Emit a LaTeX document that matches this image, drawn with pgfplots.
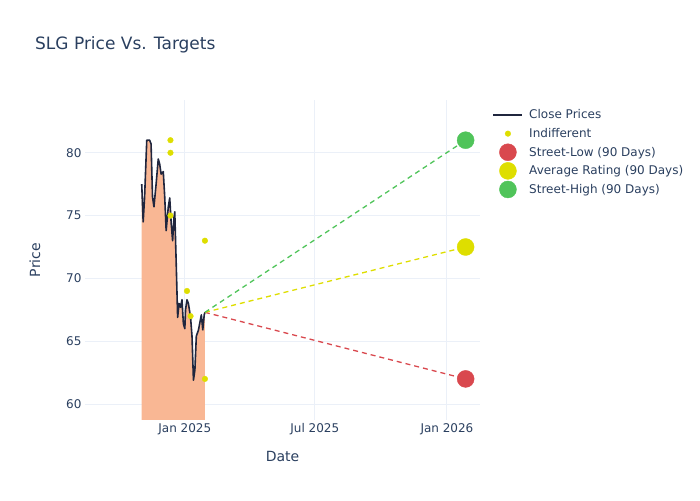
\documentclass[border=0pt]{standalone}
\usepackage{pgfplots}
\pgfplotsset{compat=1.18}
\usepackage{fontspec}
\setmainfont{DejaVu Sans}
\definecolor{txt}{RGB}{42,63,95}
\definecolor{gridc}{RGB}{235,240,248}
\definecolor{closec}{RGB}{32,38,62}
\definecolor{fillc}{RGB}{249,183,148}
\definecolor{redc}{RGB}{217,72,78}
\definecolor{yelc}{RGB}{222,222,0}
\definecolor{grnc}{RGB}{80,196,90}
\begin{document}
\begin{tikzpicture}
\path[use as bounding box] (0pt,0pt) rectangle (700pt,500pt);
\node[anchor=base west, font=\fontsize{17}{20}\selectfont, text=txt, inner sep=0] at (35pt,450pt) {SLG Price Vs. Targets};
\begin{axis}[
  at={(85pt,80pt)}, anchor=south west, scale only axis,
  width=395pt, height=320pt,
  xmin=-139, xmax=411, ymin=58.73, ymax=84.2,
  axis line style={draw=none}, tick style={draw=none},
  xtick={0,181,365}, xticklabels={Jan 2025, Jul 2025, Jan 2026},
  ytick={60,65,70,75,80},
  grid=major, grid style={color=gridc, line width=1pt},
  /pgf/number format/assume math mode=true,
  ticklabel style={font=\fontsize{12}{14}\selectfont, text=txt},
  xlabel={Date}, ylabel={Price},
  label style={font=\fontsize{14}{16}\selectfont, text=txt},
  xlabel style={at={(axis description cs:0.5,-0.1125)}, anchor=center},
  ylabel style={at={(axis description cs:-0.127,0.5)}, anchor=center},
  legend image code/.code={\path[draw=none,fill=none] (0pt,-9.3pt) rectangle (29pt,9.3pt);\draw[mark repeat=2,mark phase=2,#1] plot coordinates {(0pt,0pt)(14.5pt,0pt)(29pt,0pt)};},
  legend cell align=left,
  legend style={at={(1.032,0.982)}, anchor=north west, draw=none, fill=none,
    font=\fontsize{12}{14}\selectfont, text=txt, row sep=0pt, column sep=6pt,
    inner sep=0pt, outer sep=0pt,
    nodes={inner sep=0pt, anchor=west}},
]
\addplot[draw=none, fill=fillc, forget plot] coordinates {
(-60,77.5) (-58,74.5) (-56,76.5) (-53,81.0) (-49,81.0) (-47,80.7) (-45,76.5) (-43,75.7) (-40,77.5) (-37,79.5) (-35,79.1) (-33,78.3) (-30,78.5) (-28,76.5) (-26,73.8) (-23,75.7) (-21,76.4) (-19,74.4) (-17,73.0) (-15,74.9) (-14,75.3) (-12,71.2) (-10,66.9) (-8,68.0) (-6,67.7) (-4,68.3) (-2,66.4) (0,66.0) (1,67.5) (3,68.3) (5,68.0) (8,66.9) (10,65.4) (12,61.9) (14,62.7) (16,65.4) (19,65.9) (21,66.5) (23,67.1) (25,65.9) (27,67.1) (28,67.3)
} \closedcycle;
\addplot[color=closec, line width=1.6pt, no markers, line join=round] coordinates {
(-60,77.5) (-58,74.5) (-56,76.5) (-53,81.0) (-49,81.0) (-47,80.7) (-45,76.5) (-43,75.7) (-40,77.5) (-37,79.5) (-35,79.1) (-33,78.3) (-30,78.5) (-28,76.5) (-26,73.8) (-23,75.7) (-21,76.4) (-19,74.4) (-17,73.0) (-15,74.9) (-14,75.3) (-12,71.2) (-10,66.9) (-8,68.0) (-6,67.7) (-4,68.3) (-2,66.4) (0,66.0) (1,67.5) (3,68.3) (5,68.0) (8,66.9) (10,65.4) (12,61.9) (14,62.7) (16,65.4) (19,65.9) (21,66.5) (23,67.1) (25,65.9) (27,67.1) (28,67.3)
};
\addlegendentry{Close Prices}
\addplot[redc, line width=1.3pt, forget plot, dash pattern=on 5pt off 4pt] coordinates {(28,67.3) (391,62)};
\addplot[yelc, line width=1.3pt, forget plot, dash pattern=on 5pt off 4pt] coordinates {(28,67.3) (391,72.5)};
\addplot[grnc, line width=1.3pt, forget plot, dash pattern=on 5pt off 4pt] coordinates {(28,67.3) (391,81)};
\addplot[only marks, mark=*, mark size=2.8pt, color=yelc] coordinates {
(-20,81) (-20,80) (-20,75) (3,69) (8,67) (28,73) (28,62)
};
\addlegendentry{Indifferent}
\addplot[only marks, mark=*, mark size=8.5pt, color=redc] coordinates {(391,62)};
\addlegendentry{Street-Low (90 Days)}
\addplot[only marks, mark=*, mark size=8.5pt, color=yelc] coordinates {(391,72.5)};
\addlegendentry{Average Rating (90 Days)}
\addplot[only marks, mark=*, mark size=8.5pt, color=grnc] coordinates {(391,81)};
\addlegendentry{Street-High (90 Days)}
\end{axis}
\end{tikzpicture}
\end{document}
